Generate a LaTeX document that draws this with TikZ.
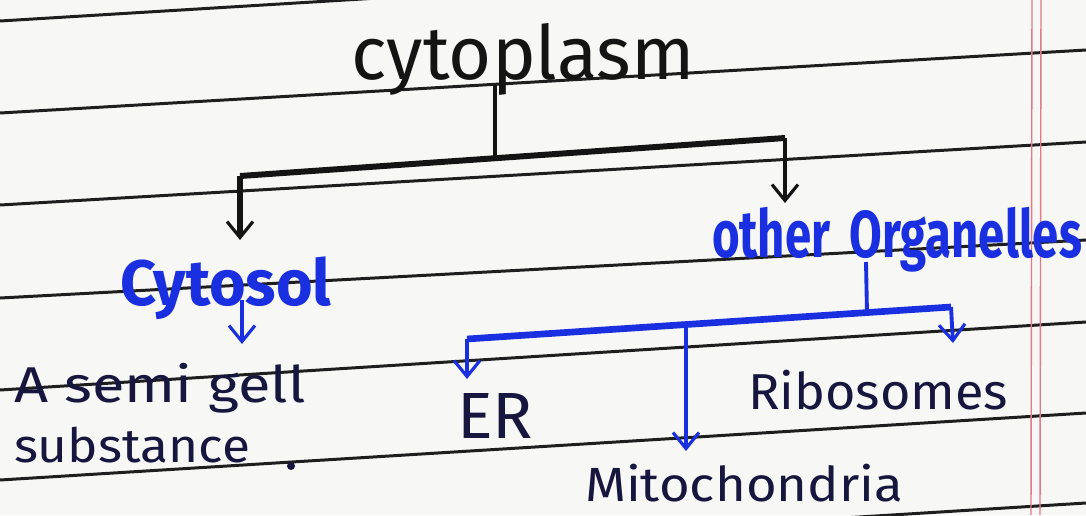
\documentclass[tikz,border=0pt]{standalone}
\usepackage{fontspec}
\setmainfont{Fira Sans}
\usepackage{graphicx}
\usetikzlibrary{arrows.meta}
\definecolor{paper}{HTML}{F7F7F5}
\definecolor{rule}{HTML}{1E1E1E}
\definecolor{margin}{HTML}{E07A86}
\definecolor{ink}{HTML}{141414}
\definecolor{navy}{HTML}{16163E}
\definecolor{marker}{HTML}{1A2FE0}
\newcommand\fitto[3]{\resizebox*{#1}{#2}{#3}}
\begin{document}
\begin{tikzpicture}[x=0.02cm,y=-0.02cm,
  ruled/.style={rule,line width=1.7pt},
  lbl/.style={inner sep=0pt,outer sep=0pt},
  barb/.style={-{Straight Barb[length=0.32cm,width=0.52cm,line width=1.8pt]}},
  blackbar/.style={ink,line width=3.4pt},
  blackline/.style={ink,line width=2.0pt},
  bluebar/.style={marker,line width=3.8pt},
  blueline/.style={marker,line width=2.2pt}]
\fill[paper] (0,0) rectangle (1086,515);
\useasboundingbox (0,0) rectangle (1086,515);
\begin{scope}
\clip (0,0) rectangle (1086,515);
% ruled lines
\draw[ruled] (0,21) -- (1086,-45);
\draw[ruled] (0,113) -- (1086,50);
\draw[ruled] (0,205) -- (1086,142);
\draw[ruled] (0,298) -- (1086,240);
\draw[ruled] (0,390) -- (1086,322);
\draw[ruled] (0,480) -- (1086,413);
\draw[ruled] (0,570) -- (1086,503);
% margin lines
\draw[margin,line width=0.8pt] (1032,0) -- (1031,515);
\draw[margin,line width=0.8pt] (1041,0) -- (1040,515);
\end{scope}
% texts
\node[lbl,text=ink] (cyto) at (523,59) {\fitto{6.86cm}{1.44cm}{cytoplasm}};
\node[lbl,text=marker] (cytosol) at (226,288) {\fitto{4.22cm}{1.26cm}{\bfseries Cytosol}};
\node[lbl,text=marker] (org) at (897,240) {\fitto{7.40cm}{1.30cm}{\bfseries other\, Organelles}};
\node[lbl,text=navy] (semi) at (160,388) {\fitto{5.82cm}{1.00cm}{A semi gell}};
\node[lbl,text=navy] (subst) at (132,445) {\fitto{4.72cm}{0.72cm}{substance}};
\node[lbl,text=navy] (er) at (495,416) {\fitto{1.52cm}{0.90cm}{ER}};
\node[lbl,text=navy] (ribo) at (878,390) {\fitto{5.20cm}{0.80cm}{Ribosomes}};
\node[lbl,text=navy] (mito) at (744,483) {\fitto{6.36cm}{0.76cm}{Mitochondria}};
\fill[navy] (291,466) circle (4);
% black tree
\coordinate (cstem) at (495,85);
\coordinate (cj) at (495,157);
\coordinate (bl) at (240,176);
\coordinate (br) at (785,138);
\coordinate (al) at (240,240);
\coordinate (ar) at (785,203);
\draw[blackline] (cstem) -- (cj);
\draw[blackbar] (bl) -- (br);
\draw[blackbar,barb] (bl) -- (al);
\draw[blackline,barb] (br) -- (ar);
% cytosol arrow
\coordinate (cs) at (242,300);
\coordinate (ce) at (242,344);
\draw[blueline,barb] (cs) -- (ce);
% blue tree
\coordinate (os) at (866,262);
\coordinate (oj) at (867,313);
\coordinate (ul) at (467,339);
\coordinate (ur) at (951,307);
\coordinate (um) at (686,325);
\draw[blueline] (os) -- (oj);
\draw[bluebar] (ul) -- (ur);
\draw[blueline,barb] (ul) -- (467,379);
\draw[blueline,barb] (ur) -- (953,343);
\draw[blueline,barb] (um) -- (686,451);
\end{tikzpicture}
\end{document}
